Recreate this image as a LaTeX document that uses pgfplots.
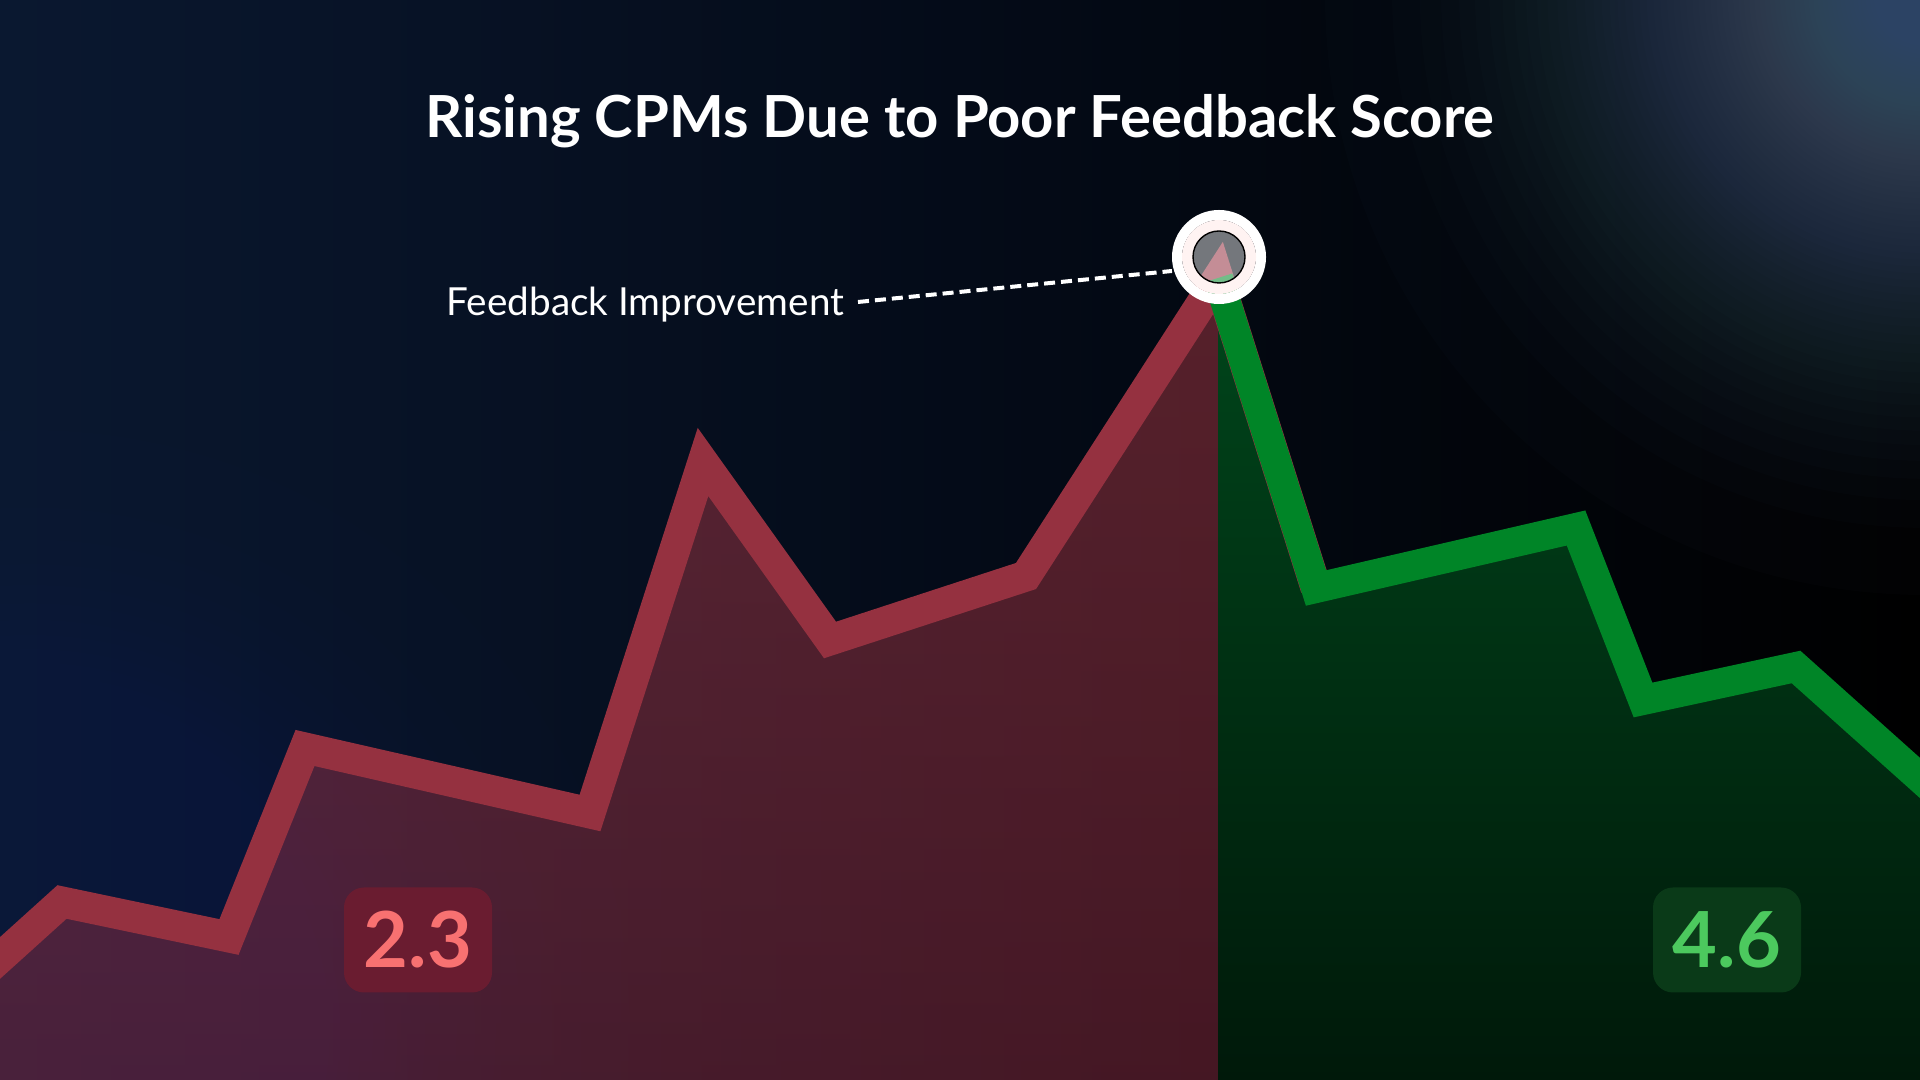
\documentclass[border=0pt]{standalone}
\usepackage{pgfplots}
\pgfplotsset{compat=1.18}
\usepackage{pgfplotstable}
\usepackage{fontspec}
\setmainfont{Lato}

\definecolor{bgL}{HTML}{0A1830}
\definecolor{bgM}{HTML}{040B18}
\definecolor{glowTR}{HTML}{566D8E}
\definecolor{glowBL}{HTML}{22406A}
\definecolor{redA}{HTML}{E04A55}
\definecolor{redB}{HTML}{B03040}
\definecolor{redline}{HTML}{953140}
\definecolor{greenA}{HTML}{00461B}
\definecolor{greenB}{HTML}{00190A}
\definecolor{greenline}{HTML}{008527}
\definecolor{ringpink}{HTML}{FFF3F2}
\definecolor{boxred}{HTML}{6A1C30}
\definecolor{txtred}{HTML}{F87171}
\definecolor{boxgreen}{HTML}{0A3A18}
\definecolor{txtgreen}{HTML}{4CC95E}

% pixel positions, y measured from the bottom
\pgfplotstableread{
x y
-40 86
0 122
62 178
229 143
305 332
590 267
703 618
830 440
1026 504
1218 802
}\redarea

\pgfplotstableread{
x y
-40 86
0 122
62 178
229 143
305 332
590 267
703 618
830 440
1026 504
1218 802
1316 492
}\redline

\pgfplotstableread{
x y
1218 802
1316 492
1576 552
1643 380
1796 413
1920 302
1980 248
}\greenline

\begin{document}
\begin{tikzpicture}
% background and soft glows (1 px = 0.01 cm)
\shade[left color=bgL, right color=black, middle color=bgM] (0,0) rectangle (19.2,10.8);
\foreach \i in {1,...,80} {
    \pgfmathsetmacro\r{6.0*(1-sqrt(1-\i/80))}
    \fill[glowTR, fill opacity=0.025] (19.25,10.85) circle[radius=\r cm];
}
\foreach \i in {1,...,60} {
    \pgfmathsetmacro\r{6.0*(1-sqrt(1-\i/60))}
    \fill[glowBL, fill opacity=0.018] (0.3,0.5) circle[radius=\r cm];
}

\begin{axis}[
    width=19.2cm, height=10.8cm, scale only axis,
    at={(0,0)}, anchor=south west,
    xmin=0, xmax=1920, ymin=0, ymax=1080,
    hide axis, clip=true
]
    % areas
    \addplot[draw=none, top color=redA, bottom color=redB, fill opacity=0.38]
        table {\redarea} \closedcycle;
    \addplot[draw=none, top color=greenA, bottom color=greenB]
        table {\greenline} \closedcycle;

    % lines
    \addplot[draw=redline, line width=0.31cm, line join=miter, mark=none]
        table {\redline};
    \addplot[draw=greenline, line width=0.30cm, line join=miter, mark=none]
        table {\greenline};

    % peak marker
    \addplot[only marks, mark=o, mark size=0.42cm,
             mark options={draw=white, fill=none, line width=0.1cm}]
        coordinates {(1219,823)};
    \addplot[only marks, mark=o, mark size=0.315cm,
             mark options={draw=ringpink, fill=none, line width=0.11cm}]
        coordinates {(1219,823)};
    \addplot[only marks, mark=*, mark size=0.26cm,
             mark options={draw=none, fill=white, fill opacity=0.45}]
        coordinates {(1219,823)};

    % annotation
    \draw[white, line width=0.04cm, dash pattern=on 0.11cm off 0.06cm]
        (axis cs:858,778) -- (axis cs:1172,809);
    \node[anchor=base west, inner sep=0, text=white, font=\fontsize{11}{13}\selectfont]
        at (axis cs:446,764) {Feedback Improvement};

    % title
    \node[anchor=base, inner sep=0, text=white, font=\fontsize{16.5}{20}\selectfont\bfseries]
        at (axis cs:960,942) {Rising CPMs Due to Poor Feedback Score};

    % score badges
    \node[fill=boxred, rounded corners=0.2cm, minimum width=1.48cm, minimum height=1.05cm,
          text=txtred, font=\fontsize{22}{24}\selectfont\bfseries]
        at (axis cs:418,140) {2.3};
    \node[fill=boxgreen, rounded corners=0.2cm, minimum width=1.48cm, minimum height=1.05cm,
          text=txtgreen, font=\fontsize{22}{24}\selectfont\bfseries]
        at (axis cs:1727,140) {4.6};
\end{axis}
\pgfresetboundingbox
\path[use as bounding box] (0,0) rectangle (19.2,10.8);
\end{tikzpicture}
\end{document}
